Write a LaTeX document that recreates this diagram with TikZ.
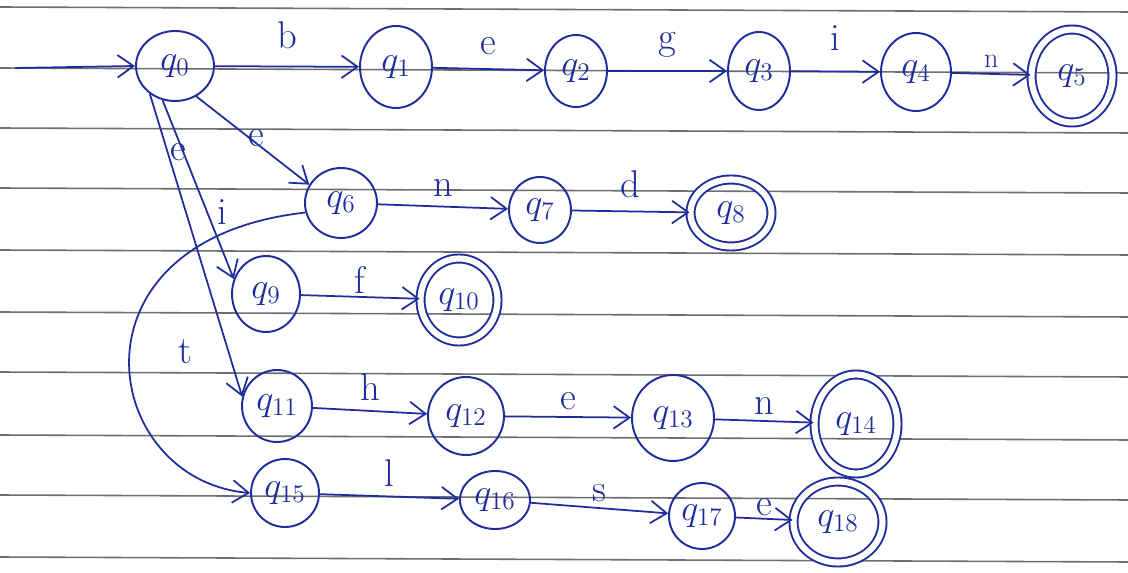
\documentclass[tikz,border=0pt]{standalone}
\usetikzlibrary{arrows.meta,shapes.geometric}
\definecolor{pen}{HTML}{1F2D9C}
\definecolor{rule}{HTML}{6E6E6E}
\begin{document}
\begin{tikzpicture}[x=0.02cm,y=-0.02cm,
  st/.style={draw=pen,ellipse,line width=1.1pt,inner sep=0pt,text=pen,font=\fontsize{20}{24}\selectfont},
  acc/.style={st,double=white,double distance=3.5pt},
  tr/.style={draw=pen,line width=1pt,-{Straight Barb[length=3.2mm,width=4.5mm,line width=1pt]}},
  lab/.style={text=pen,font=\fontsize{22}{26}\selectfont},
  ruling/.style={draw=rule,line width=0.9pt}]
\useasboundingbox (0,0) rectangle (1128,573);
\fill[white] (0,0) rectangle (1128,573);
% ruled paper lines
\foreach \yy in {7,68,128,188,250,312,372,435,495,557}
  \draw[ruling] (0,\yy) -- (1128,\yy+5);
% states
\node[st,minimum width=1.56cm,minimum height=1.40cm] (q0) at (175,66) {$q_{0}$};
\node[st,minimum width=1.44cm,minimum height=1.64cm] (q1) at (396,67) {$q_{1}$};
\node[st,minimum width=1.24cm,minimum height=1.44cm] (q2) at (576,71) {$q_{2}$};
\node[st,minimum width=1.24cm,minimum height=1.56cm] (q3) at (759,71) {$q_{3}$};
\node[st,minimum width=1.40cm,minimum height=1.56cm] (q4) at (916,72) {$q_{4}$};
\node[acc,minimum width=1.62cm,minimum height=1.86cm] (q5) at (1072,76) {$q_{5}$};
\node[st,minimum width=1.44cm,minimum height=1.40cm] (q6) at (341,203) {$q_{6}$};
\node[st,minimum width=1.24cm,minimum height=1.32cm] (q7) at (540,210) {$q_{7}$};
\node[acc,minimum width=1.62cm,minimum height=1.34cm] (q8) at (731,213) {$q_{8}$};
\node[st,minimum width=1.36cm,minimum height=1.52cm] (q9) at (266,294) {$q_{9}$};
\node[acc,minimum width=1.54cm,minimum height=1.66cm] (q10) at (459,300) {$q_{10}$};
\node[st,minimum width=1.40cm,minimum height=1.44cm] (q11) at (277,406) {$q_{11}$};
\node[st,minimum width=1.52cm,minimum height=1.56cm] (q12) at (466,416) {$q_{12}$};
\node[st,minimum width=1.64cm,minimum height=1.72cm] (q13) at (673,418) {$q_{13}$};
\node[acc,minimum width=1.66cm,minimum height=1.98cm] (q14) at (856,424) {$q_{14}$};
\node[st,minimum width=1.36cm,minimum height=1.36cm] (q15) at (285,493) {$q_{15}$};
\node[st,minimum width=1.40cm,minimum height=1.16cm] (q16) at (495,500) {$q_{16}$};
\node[st,minimum width=1.32cm,minimum height=1.32cm] (q17) at (702,516) {$q_{17}$};
\node[acc,minimum width=1.78cm,minimum height=1.62cm] (q18) at (838,522) {$q_{18}$};
% start arrow
\coordinate (start) at (15,68);
\draw[tr] (start) -- (q0.west);
% row 1: begin
\draw[tr] (q0) -- (q1) node[lab,midway,above=6pt] {b};
\draw[tr] (q1) -- (q2) node[lab,midway,above=4pt] {e};
\draw[tr] (q2) -- (q3) node[lab,midway,above=4pt] {g};
\draw[tr] (q3) -- (q4) node[lab,midway,above=8pt] {i};
\draw[tr] (q4) -- (q5) node[lab,midway,above=0pt,font=\fontsize{16}{18}\selectfont] {n};
% row 2: end
\draw[tr] (q0.-55) -- (q6.150);
\node[lab] (le6) at (256,138) {e};
\draw[tr] (q6) -- (q7) node[lab,midway,above=2pt] {n};
\draw[tr] (q7) -- (q8) node[lab,midway,above=4pt] {d};
% row 3: if
\draw[tr] (q0.250) -- (q9.155);
\node[lab] (le) at (178,152) {e};
\node[lab] (li) at (222,212) {i};
\draw[tr] (q9) -- (q10) node[lab,midway,above=-2pt] {f};
% row 4: then
\draw[tr] (q0.228) -- (q11.165);
\node[lab] (lt) at (185,352) {t};
\draw[tr] (q11) -- (q12) node[lab,midway,above=2pt] {h};
\draw[tr] (q12) -- (q13) node[lab,midway,above=0pt] {e};
\draw[tr] (q13) -- (q14) node[lab,midway,above=0pt] {n};
% row 5: else
\draw[tr] (q6.195) .. controls (60,240) and (100,480) .. (q15.west);
\draw[tr] (q15) -- (q16) node[lab,midway,above=2pt] {l};
\draw[tr] (q16) -- (q17) node[lab,midway,above=0pt] {s};
\draw[tr] (q17) -- (q18) node[lab,midway,above=-2pt] {e};
\end{tikzpicture}
\end{document}
